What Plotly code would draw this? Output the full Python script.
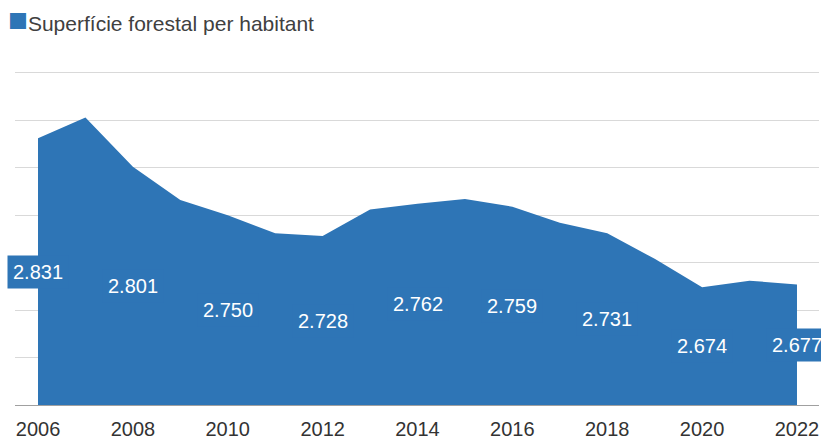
import plotly.graph_objects as go

years = list(range(2006, 2023))
values = [2.831, 2.853, 2.801, 2.766, 2.750, 2.731, 2.728, 2.756, 2.762,
          2.767, 2.759, 2.742, 2.731, 2.704, 2.674, 2.681, 2.677]
label_years = [2006, 2008, 2010, 2012, 2014, 2016, 2018, 2020, 2022]
label_texts = ["2.831", "2.801", "2.750", "2.728", "2.762", "2.759", "2.731", "2.674", "2.677"]
tick_labels = [str(y) for y in label_years]
series_name = "Superfície forestal per habitant"

BLUE = "#2E75B6"
FONT = "Liberation Sans, Arial, sans-serif"
Y_MIN, Y_MAX = 2.55, 2.903

fig = go.Figure()
fig.add_trace(go.Scatter(
    x=years, y=values, mode="lines", fill="tozeroy",
    line=dict(width=0, color=BLUE), fillcolor=BLUE,
    showlegend=False, hoverinfo="skip",
))

val_map = dict(zip(years, values))
for yr, txt in zip(label_years, label_texts):
    v = val_map[yr]
    fig.add_annotation(
        x=yr, y=(v + Y_MIN) / 2, xref="x", yref="y", text=txt,
        showarrow=False, font=dict(family=FONT, size=20, color="white"),
        bgcolor=BLUE, borderpad=5, xanchor="center", yanchor="middle",
    )

fig.add_annotation(
    xref="paper", yref="paper", x=-0.0112, y=1.1505,
    xanchor="left", yanchor="middle", showarrow=False,
    text=f"<span style='color:{BLUE};font-size:33px'>■</span>{series_name}",
    font=dict(family=FONT, size=21, color="#404040"),
)

fig.update_layout(
    width=821, height=437,
    margin=dict(l=15, r=2, t=70, b=32, autoexpand=False),
    paper_bgcolor="white", plot_bgcolor="white",
    showlegend=False,
    xaxis=dict(
        range=[2005.515, 2022.464], tickvals=label_years, ticktext=tick_labels,
        showgrid=False, zeroline=False, showline=True, linecolor="#a0a0a0",
        linewidth=1, ticks="outside", ticklen=6, tickcolor="rgba(0,0,0,0)",
        tickfont=dict(family=FONT, size=20, color="#333333"), automargin=False,
    ),
    yaxis=dict(
        range=[Y_MIN, Y_MAX], dtick=0.05, tick0=Y_MIN, showticklabels=False,
        showgrid=True, gridcolor="#d9d9d9", gridwidth=1, zeroline=False,
        automargin=False,
    ),
)

fig.write_html("out.html", config={"displayModeBar": False},
               post_script="document.body.style.margin='0';document.body.style.overflow='hidden';")
